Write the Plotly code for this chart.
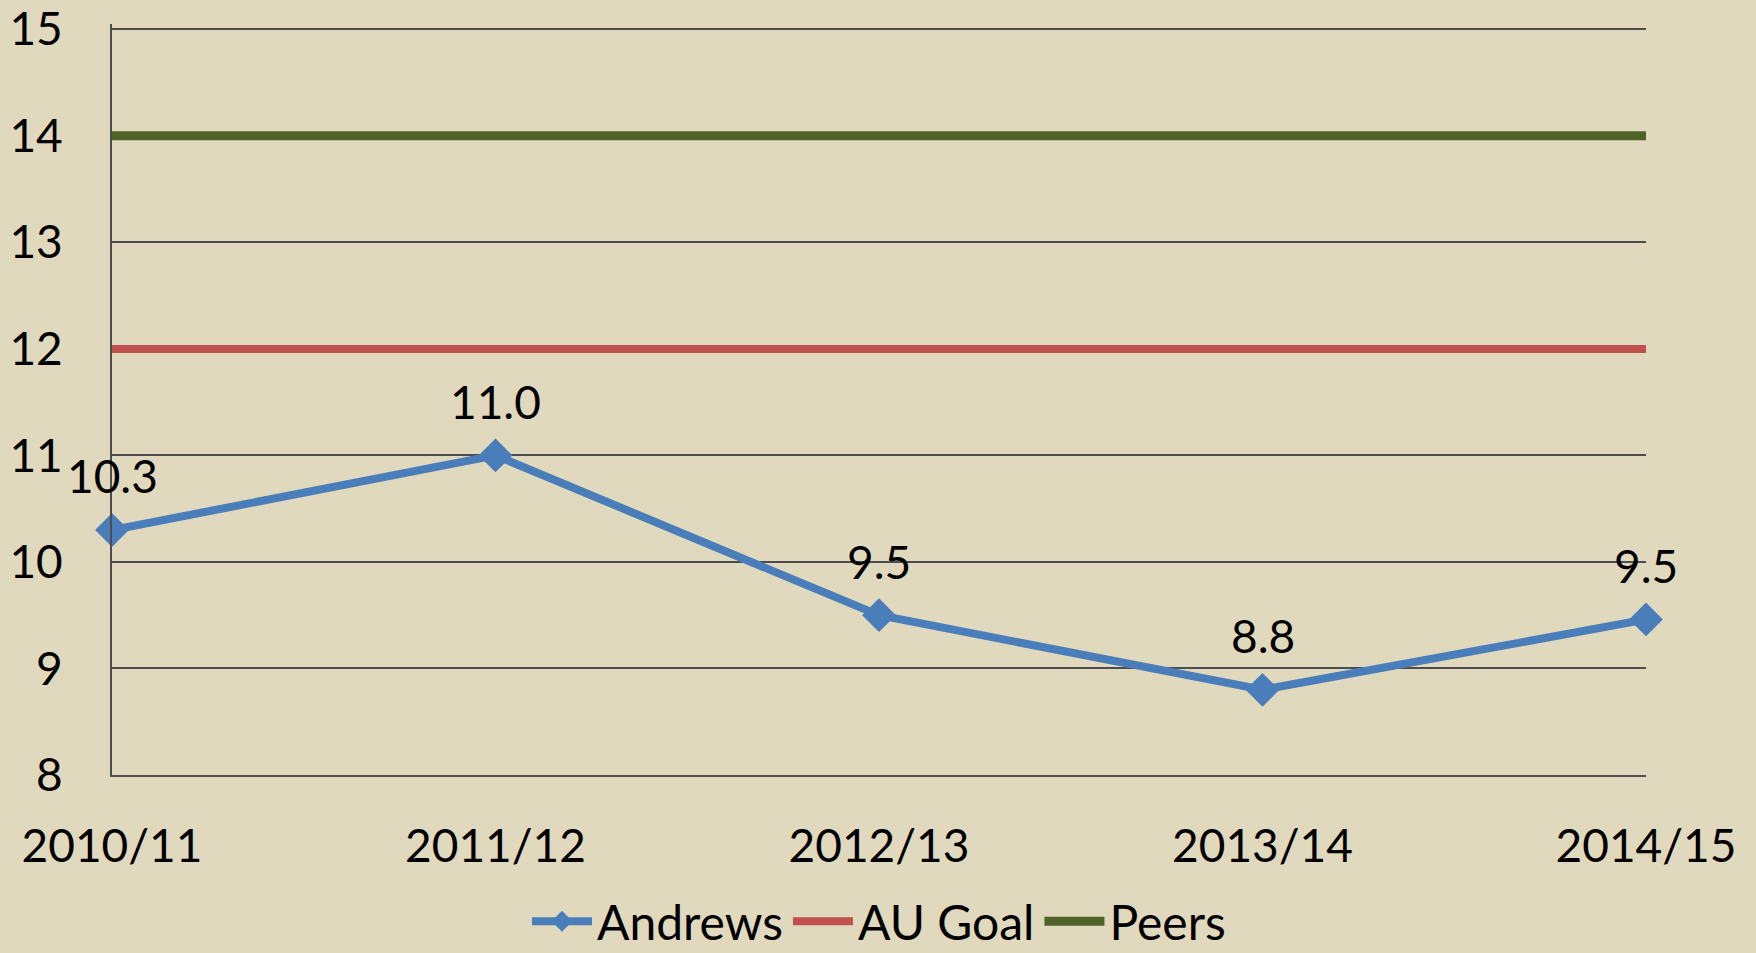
import plotly.graph_objects as go

years = ["2010/11", "2011/12", "2012/13", "2013/14", "2014/15"]
andrews = [10.3, 11.0, 9.5, 8.8, 9.46]
au_goal = [12, 12, 12, 12, 12]
peers = [14, 14, 14, 14, 14]
y_ticks = [8, 9, 10, 11, 12, 13, 14, 15]

_BG = "#E0D9BD"
_GRID = "#4D4D4D"
_FONT = "Lato, 'Open Sans', sans-serif"

fig = go.Figure()
fig.add_trace(go.Scatter(
    x=years, y=andrews, name="Andrews", mode="lines+markers",
    line=dict(color="#4A7EBB", width=8),
    marker=dict(symbol="diamond", size=26, color="#4A7EBB"),
    cliponaxis=False))
fig.add_trace(go.Scatter(
    x=years, y=au_goal, name="AU Goal", mode="lines",
    line=dict(color="#C0504D", width=8)))
fig.add_trace(go.Scatter(
    x=years, y=peers, name="Peers", mode="lines",
    line=dict(color="#4F6228", width=9)))

# data labels sit a fixed distance above each point
for yr, v in zip(years, andrews):
    fig.add_annotation(x=yr, y=v, text=f"{v:.1f}", showarrow=False,
                       yanchor="middle", yshift=54,
                       font=dict(size=46, color="black", family=_FONT))

# range runs a hair past 15 so the top gridline/label survive; t margin offsets it
fig.update_layout(
    width=1756, height=953,
    margin=dict(l=112, r=110, t=24, b=178, autoexpand=False),
    paper_bgcolor=_BG, plot_bgcolor=_BG,
    font=dict(family=_FONT, size=46, color="black"),
    legend=dict(orientation="h", x=0.5, xanchor="center",
                yref="container", y=0.033, yanchor="middle",
                font=dict(size=48), bgcolor="rgba(0,0,0,0)",
                itemwidth=60, tracegroupgap=0),
    showlegend=True,
)
fig.update_xaxes(
    type="category", range=[0, 4], showgrid=False, zeroline=False,
    showline=True, linecolor=_GRID, linewidth=2, ticks="", automargin=False,
    ticklabelstandoff=30, tickfont=dict(size=46))
fig.update_yaxes(
    range=[8, 15.05], tickvals=y_ticks, showgrid=True, gridcolor=_GRID,
    gridwidth=2, zeroline=False, showline=True, linecolor=_GRID, linewidth=2,
    ticks="", automargin=False, ticklabeloverflow="allow",
    ticklabelstandoff=38, tickfont=dict(size=46))

fig.write_html(
    "out.html",
    config={"displayModeBar": False},
    post_script="document.body.style.margin='0';document.body.style.overflow='hidden';",
)
